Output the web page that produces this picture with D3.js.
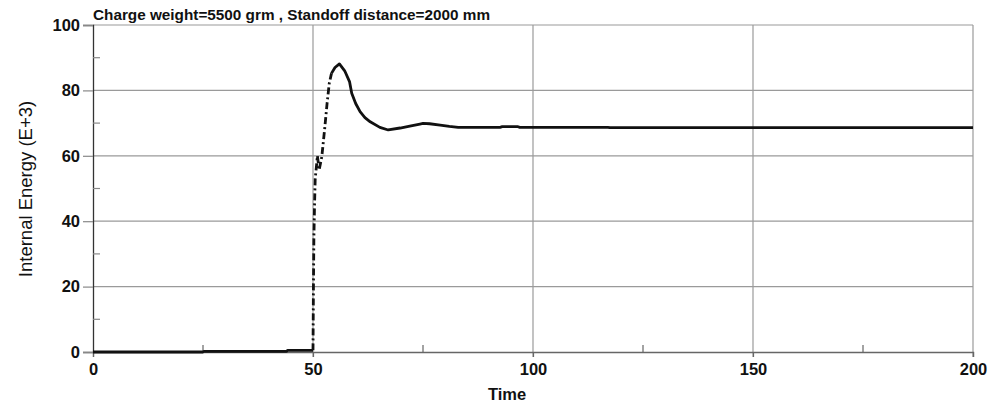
<!DOCTYPE html>
<html>
<head>
<meta charset="utf-8">
<script src="https://cdn.jsdelivr.net/npm/d3@7"></script>
<style>
  html, body { margin: 0; padding: 0; background: #fff; }
  svg { display: block; }
  text { font-family: Arial, "Liberation Sans", sans-serif; fill: #111; }
</style>
</head>
<body>
<svg id="chart" width="994" height="407"></svg>
<script>
// ---- data ----
const title = "Charge weight=5500 grm , Standoff distance=2000 mm";
const xLabel = "Time";
const yLabel = "Internal Energy (E+3)";
const xMajorTicks = [0, 50, 100, 150, 200];
const xMinorTicks = [25, 75, 125, 175];
const yMajorTicks = [0, 20, 40, 60, 80, 100];
const yMinorTicks = [10, 30, 50, 70, 90];
const time = [0, 25, 25.2, 44, 44.2, 50, 50.05, 50.1, 50.2, 50.35, 50.5, 50.8, 51.0, 51.4, 52.0,
  52.7, 53.2, 53.7, 54.2, 55.0, 56.0, 57.2, 58.3, 58.8, 59.7, 60.7, 61.8, 63.0, 65.2, 67.1,
  69.8, 72.0, 74.3, 75.0, 76.5, 78.9, 81, 83, 92.5, 93, 96.6, 97, 117, 117.5, 200];
const energy = [0, 0, 0.2, 0.2, 0.5, 0.5, 10, 20, 35, 45, 53, 57, 60, 55.7, 59.7,
  68.9, 76, 82.2, 85.2, 87, 88.1, 86, 82.7, 79.1, 76, 73.5, 71.7, 70.4, 68.7, 67.9,
  68.5, 69.1, 69.7, 69.9, 69.8, 69.4, 69, 68.7, 68.7, 68.9, 68.9, 68.7, 68.7, 68.6, 68.6];
const dashedRange = [50, 54.2];

// ---- layout ----
const svg = d3.select("#chart");
const L = 93, R = 973, T = 25, B = 352;
const x = d3.scaleLinear().domain([0, 200]).range([L, R]);
const y = d3.scaleLinear().domain([0, 100]).range([B, T]);

// gridlines
const grid = svg.append("g");
grid.selectAll("line.v").data(xMajorTicks.slice(1)).join("line")
  .attr("x1", d => x(d)).attr("x2", d => x(d)).attr("y1", T).attr("y2", B + 5)
  .attr("stroke", "#9a9a9a").attr("stroke-width", 1.2);
grid.selectAll("line.h").data(yMajorTicks.slice(1)).join("line")
  .attr("x1", L).attr("x2", R).attr("y1", d => y(d)).attr("y2", d => y(d))
  .attr("stroke", "#9a9a9a").attr("stroke-width", 1.2);

// axes
const yAxis = d3.axisLeft(y).tickValues(yMajorTicks).tickSize(10).tickPadding(3);
const gy = svg.append("g").attr("transform", `translate(${L},0)`).call(yAxis);
gy.select(".domain").attr("stroke", "#333").attr("stroke-width", 1.3);
gy.selectAll(".tick line").attr("stroke", "#888").attr("stroke-width", 1.2);
gy.selectAll(".tick text").attr("font-size", 16.5).attr("font-weight", "bold")
  .attr("font-family", "Arial, 'Liberation Sans', sans-serif").attr("fill", "#111");

const xAxis = d3.axisBottom(x).tickValues(xMajorTicks).tickSize(5).tickPadding(6);
const gx = svg.append("g").attr("transform", `translate(0,${B})`).call(xAxis);
gx.select(".domain").attr("stroke", "#666").attr("stroke-width", 1.3);
gx.selectAll(".tick line").attr("stroke", "#666").attr("stroke-width", 1.2);
gx.selectAll(".tick text").attr("font-size", 16.5).attr("font-weight", "bold")
  .attr("font-family", "Arial, 'Liberation Sans', sans-serif").attr("fill", "#111");

// minor ticks (inside)
svg.append("g").selectAll("line").data(xMinorTicks).join("line")
  .attr("x1", d => x(d)).attr("x2", d => x(d)).attr("y1", B).attr("y2", B - 7)
  .attr("stroke", "#666").attr("stroke-width", 1.2);
svg.append("g").selectAll("line").data(yMinorTicks).join("line")
  .attr("x1", L).attr("x2", L + 7).attr("y1", d => y(d)).attr("y2", d => y(d))
  .attr("stroke", "#888").attr("stroke-width", 1.2);

// data line
const pts = time.map((t, i) => ({ t, v: energy[i] }));
const line = d3.line().x(d => x(d.t)).y(d => y(d.v));
const before = pts.filter(d => d.t <= dashedRange[0]);
const mid = pts.filter(d => d.t >= dashedRange[0] && d.t <= dashedRange[1]);
const after = pts.filter(d => d.t >= dashedRange[1]);
const lg = svg.append("g").attr("fill", "none").attr("stroke", "#111")
  .attr("stroke-width", 2.8).attr("stroke-linejoin", "round");
lg.append("path").attr("d", line(before));
lg.append("path").attr("d", line(mid)).attr("stroke-dasharray", "7,3,2,3");
lg.append("path").attr("d", line(after));

// title & labels
svg.append("text").attr("x", L).attr("y", 20).attr("font-size", 15.3)
  .attr("font-weight", "bold").text(title);
svg.append("text").attr("x", 507).attr("y", 400).attr("text-anchor", "middle")
  .attr("font-size", 16.5).attr("font-weight", "bold").text(xLabel);
svg.append("text").attr("transform", "translate(32,189) rotate(-90)")
  .attr("text-anchor", "middle").attr("font-size", 18.5).text(yLabel);
</script>
</body>
</html>
